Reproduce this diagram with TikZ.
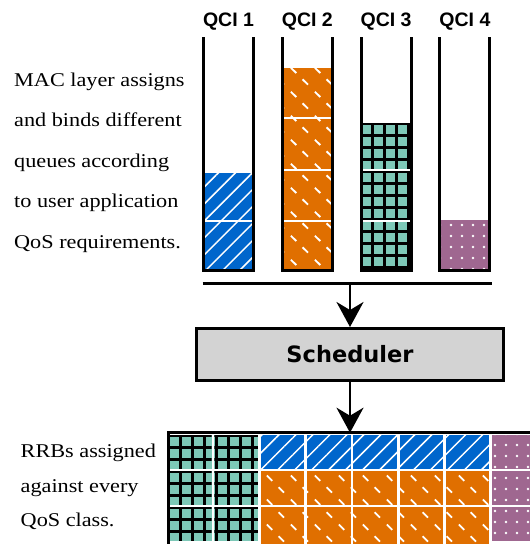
\documentclass[tikz,border=0pt]{standalone}
\usepackage{fontspec}
\setmainfont[FakeStretch=1.14]{Liberation Serif}
\newfontfamily\qcifont{Liberation Sans}
\newfontfamily\schedfont{DejaVu Sans}
\usetikzlibrary{arrows.meta,patterns.meta}

\definecolor{qciblue}{HTML}{0066CC}
\definecolor{qciorange}{HTML}{E06F00}
\definecolor{qcigreen}{HTML}{7DC8B7}
\definecolor{qcipurple}{HTML}{9F6790}
\definecolor{schedgray}{HTML}{D3D3D3}

\tikzdeclarepattern{
  name=Dashes,
  type=uncolored,
  bounding box={(0pt,0pt) and (24pt,24pt)},
  tile size={(24pt,24pt)},
  code={
    \draw[line width=1.9pt] (3pt,21pt) -- (8.5pt,15.5pt);
    \draw[line width=1.9pt] (15pt,9pt) -- (20.5pt,3.5pt);
  }
}

\newcommand\XA{203.5}
\newcommand\XB{282.3}
\newcommand\XC{361.1}
\newcommand\XD{439.9}
\newcommand\QW{50}
\newcommand\QTop{37.3}
\newcommand\QBot{270}
\newcommand\GX{168}
\newcommand\GY{435}
\newcommand\GP{46.3}
\newcommand\GR{36}
\newcommand\CW{43.6}
\newcommand\CH{33.5}

\begin{document}
\begin{tikzpicture}
  [x=1pt,y=-1pt,
   note/.style = {
     inner sep=0pt, anchor=base west, font=\fontsize{19.5}{23}\selectfont
   },
   qcilabel/.style = {
     inner sep=0pt, anchor=base, font=\qcifont\bfseries\fontsize{19.5}{23}\selectfont
   },
   sched/.style = {
     draw, line width=3pt, fill=schedgray,
     minimum width=307pt, minimum height=52pt,
     font=\schedfont\bfseries\fontsize{22.5}{26}\selectfont
   },
   tube/.style = {
     line width=3pt
   },
   divider/.style = {
     white, line width=2.5pt
   },
   flow/.style = {
     line width=2.7pt, -{Stealth[length=25pt,width=27pt,inset=8pt]}
   },
   bluefill/.style = {
     fill=qciblue,
     postaction={pattern={Lines[angle=45,distance=12pt,line width=1.5pt]}, pattern color=white}
   },
   orangefill/.style = {
     fill=qciorange,
     postaction={pattern=Dashes, pattern color=white}
   },
   greenfill/.style = {
     fill=qcigreen,
     postaction={pattern={Hatch[angle=0,distance=12pt,line width=3pt]}, pattern color=black}
   },
   purplefill/.style = {
     fill=qcipurple,
     postaction={pattern={Dots[distance=11pt,radius=1.3pt]}, pattern color=white}
   }]

  \useasboundingbox (0,0) rectangle (531,544);

  % Left notes.
  \node[note] (mac1) at (14, 86) {MAC layer assigns};
  \node[note] (mac2) at (14, 126.5) {and binds different};
  \node[note] (mac3) at (14, 167) {queues according};
  \node[note] (mac4) at (14, 207.5) {to user application};
  \node[note] (mac5) at (14, 248) {QoS requirements.};

  \node[note] (rrb1) at (20.5, 457.5) {RRBs assigned};
  \node[note] (rrb2) at (20.5, 492) {against every};
  \node[note] (rrb3) at (20.5, 526.5) {QoS class.};

  % Queue labels.
  \node[qcilabel] (qci1) at (\XA+0.5*\QW, 26.7) {QCI 1};
  \node[qcilabel] (qci2) at (\XB+0.5*\QW, 26.7) {QCI 2};
  \node[qcilabel] (qci3) at (\XC+0.5*\QW, 26.7) {QCI 3};
  \node[qcilabel] (qci4) at (\XD+0.5*\QW, 26.7) {QCI 4};

  % Queue contents.
  \path[bluefill] (\XA, 173) rectangle (\XA+\QW, \QBot);
  \draw[divider] (\XA, 221) -- (\XA+\QW, 221);

  \path[orangefill] (\XB, 68) rectangle (\XB+\QW, \QBot);
  \draw[divider] (\XB, 118) -- (\XB+\QW, 118);
  \draw[divider] (\XB, 170) -- (\XB+\QW, 170);
  \draw[divider] (\XB, 221) -- (\XB+\QW, 221);

  \path[greenfill] (\XC, 123) rectangle (\XC+\QW, \QBot);
  \draw[divider] (\XC, 170) -- (\XC+\QW, 170);
  \draw[divider] (\XC, 221) -- (\XC+\QW, 221);

  \path[purplefill] (\XD, 220) rectangle (\XD+\QW, \QBot);

  % Queue walls.
  \draw[tube] (\XA, \QTop) -- (\XA, \QBot) -- (\XA+\QW, \QBot) -- (\XA+\QW, \QTop);
  \draw[tube] (\XB, \QTop) -- (\XB, \QBot) -- (\XB+\QW, \QBot) -- (\XB+\QW, \QTop);
  \draw[tube] (\XC, \QTop) -- (\XC, \QBot) -- (\XC+\QW, \QBot) -- (\XC+\QW, \QTop);
  \draw[tube] (\XD, \QTop) -- (\XD, \QBot) -- (\XD+\QW, \QBot) -- (\XD+\QW, \QTop);

  % Bracket and scheduler.
  \coordinate (brL) at (202.7, 283.3);
  \coordinate (brR) at (492.3, 283.3);
  \coordinate (brMid) at (350, 283.3);
  \draw[tube] (brL) -- (brR);

  \node[sched] (sched) at (350, 354.5) {Scheduler};
  \draw[flow] (brMid) -- (sched.north);

  % Resource blocks.
  \coordinate (gridTop) at (350, 432.7);
  \coordinate (gridTL) at (168.3, 432.7);
  \coordinate (gridTR) at (530, 432.7);
  \coordinate (gridBL) at (168.3, 544);

  \foreach \r in {0,1,2} {
    \foreach \c in {0,1}
      \path[greenfill] (\GX+\c*\GP, \GY+\r*\GR) rectangle ++(\CW, \CH);
    \path[purplefill] (\GX+7*\GP, \GY+\r*\GR) rectangle ++(38, \CH);
  }
  \foreach \c in {2,...,6} {
    \path[bluefill] (\GX+\c*\GP, \GY) rectangle ++(\CW, \CH);
    \path[orangefill] (\GX+\c*\GP, \GY+\GR) rectangle ++(\CW, \CH);
    \path[orangefill] (\GX+\c*\GP, \GY+2*\GR) rectangle ++(\CW, 37);
  }

  \draw[tube] (gridBL) -- (gridTL) -- (gridTR);
  \draw[flow] (sched.south) -- (gridTop);

\end{tikzpicture}
\end{document}
